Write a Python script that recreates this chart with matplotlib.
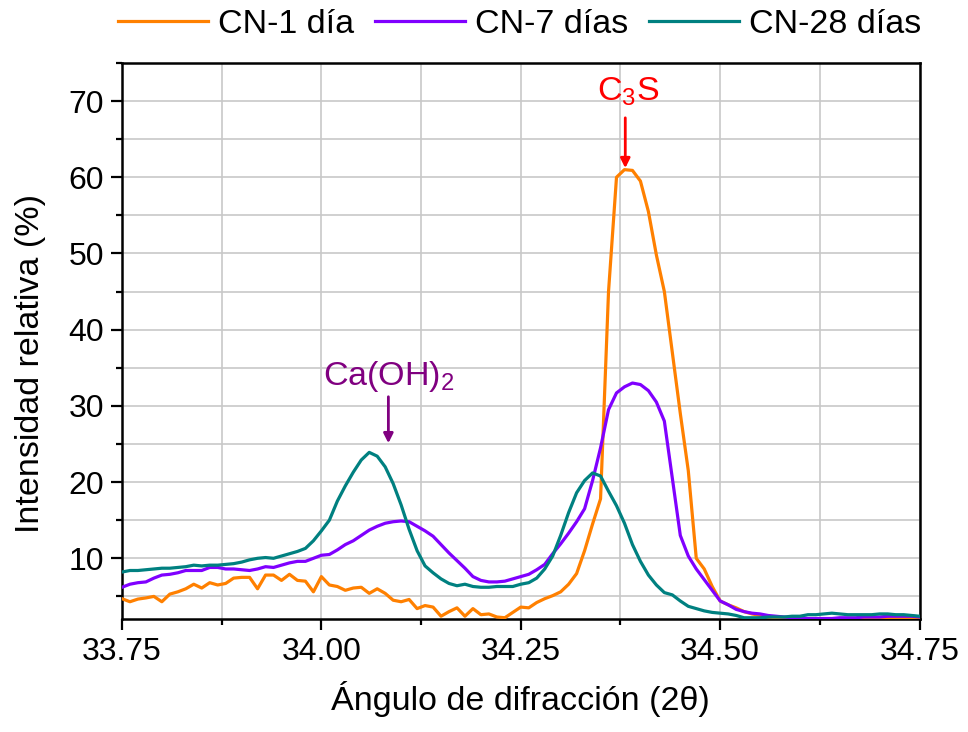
import numpy as np
import matplotlib

matplotlib.use("Agg")
import matplotlib.pyplot as plt
from matplotlib.ticker import MultipleLocator

plt.rcParams["font.family"] = ["Liberation Sans", "DejaVu Sans"]
plt.rcParams["mathtext.fontset"] = "custom"
plt.rcParams["mathtext.rm"] = "Liberation Sans"
plt.rcParams["mathtext.it"] = "Liberation Sans"

# 2theta grid, step 0.01
angle = np.round(np.arange(101) * 0.01 + 33.75, 2)

cn1 = [
    4.7, 4.3, 4.65, 4.8, 5.0, 4.3, 5.3, 5.6, 6.0, 6.6,
    6.1, 6.8, 6.5, 6.7, 7.4, 7.5, 7.5, 6.0, 7.8, 7.8,
    7.1, 7.9, 7.1, 7.0, 5.6, 7.6, 6.5, 6.3, 5.8, 6.1,
    6.2, 5.4, 6.0, 5.4, 4.5, 4.3, 4.6, 3.4, 3.8, 3.6,
    2.4, 3.0, 3.5, 2.4, 3.4, 2.6, 2.7, 2.3, 2.2, 2.9,
    3.6, 3.5, 4.2, 4.7, 5.1, 5.6, 6.6, 8.0, 11.0, 14.5,
    17.8, 45.0, 60.0, 61.0, 60.9, 59.5, 55.5, 49.8, 45.0, 37.0,
    29.0, 21.5, 10.0, 8.6, 6.3, 4.4, 3.9, 3.5, 3.0, 2.7,
    2.5, 2.3, 2.2, 2.2, 2.1, 2.1, 2.0, 2.1, 2.0, 2.0,
    2.1, 2.1, 2.1, 2.2, 2.1, 2.2, 2.2, 2.1, 2.2, 2.1,
    2.2,
]

cn7 = [
    6.2, 6.6, 6.8, 6.9, 7.4, 7.8, 7.9, 8.1, 8.4, 8.4,
    8.4, 8.8, 8.8, 8.6, 8.6, 8.5, 8.4, 8.6, 8.9, 8.8,
    9.1, 9.4, 9.6, 9.6, 10.0, 10.4, 10.5, 11.1, 11.8, 12.3,
    13.0, 13.7, 14.2, 14.6, 14.8, 14.9, 14.8, 14.2, 13.6, 12.9,
    11.8, 10.7, 9.7, 8.7, 7.6, 7.1, 6.9, 6.9, 7.0, 7.3,
    7.6, 7.9, 8.5, 9.2, 10.6, 11.9, 13.3, 14.8, 16.5, 20.2,
    24.5, 29.5, 31.7, 32.5, 33.0, 32.8, 32.0, 30.5, 28.0, 20.5,
    13.0, 10.3, 8.6, 7.2, 5.8, 4.4, 3.9, 3.3, 3.0, 2.8,
    2.7, 2.5, 2.4, 2.3, 2.2, 2.2, 2.1, 2.1, 2.1, 2.1,
    2.2, 2.2, 2.2, 2.3, 2.3, 2.3, 2.4, 2.4, 2.4, 2.4,
    2.3,
]

cn28 = [
    8.2, 8.4, 8.4, 8.5, 8.6, 8.7, 8.7, 8.8, 8.9, 9.1,
    9.0, 9.1, 9.1, 9.2, 9.3, 9.5, 9.8, 10.0, 10.1, 10.0,
    10.3, 10.6, 10.9, 11.3, 12.3, 13.6, 15.0, 17.5, 19.5, 21.3,
    22.9, 23.9, 23.4, 22.0, 19.8, 17.0, 13.8, 11.0, 9.0, 8.1,
    7.3, 6.7, 6.4, 6.6, 6.3, 6.2, 6.2, 6.3, 6.3, 6.3,
    6.6, 6.8, 7.4, 8.6, 10.3, 13.0, 16.0, 18.6, 20.2, 21.2,
    20.8, 18.8, 16.9, 14.6, 11.8, 9.6, 7.8, 6.5, 5.5, 5.2,
    4.4, 3.7, 3.4, 3.1, 2.9, 2.8, 2.7, 2.5, 2.2, 2.2,
    2.2, 2.3, 2.3, 2.3, 2.4, 2.4, 2.6, 2.6, 2.7, 2.8,
    2.7, 2.6, 2.6, 2.6, 2.6, 2.7, 2.7, 2.6, 2.6, 2.5,
    2.4,
]

series = [
    ("CN-1 día", cn1, "#ff8000"),
    ("CN-7 días", cn7, "#8000ff"),
    ("CN-28 días", cn28, "#008080"),
]

fig = plt.figure(figsize=(9.68, 7.32), dpi=100)
ax = fig.add_axes([0.126, 0.154, 0.824, 0.760])

for label, vals, col in series:
    ax.plot(angle, vals, color=col, lw=2.3, label=label, zorder=3)

ax.set_xlim(33.75, 34.75)
ax.set_ylim(2, 75)
ax.xaxis.set_minor_locator(MultipleLocator(0.125))
ax.yaxis.set_minor_locator(MultipleLocator(5))
ax.set_xticks([33.75, 34.00, 34.25, 34.50, 34.75])
ax.set_xticklabels(["33.75", "34.00", "34.25", "34.50", "34.75"])
ax.set_yticks([10, 20, 30, 40, 50, 60, 70])

ax.grid(True, which="both", color="#c8c8c8", lw=1.2, zorder=0)
ax.set_axisbelow(True)
for s in ax.spines.values():
    s.set_linewidth(1.8)
    s.set_color("black")
ax.tick_params(which="major", direction="out", length=8, width=1.6, labelsize=23, pad=5)
ax.tick_params(which="minor", direction="out", length=4, width=1.6)

ax.set_xlabel("Ángulo de difracción (2θ)", fontsize=24.5, labelpad=10)
ax.set_ylabel("Intensidad relativa (%)", fontsize=24.5)
ax.yaxis.set_label_coords(-0.095, 0.46)

# peak labels
ax.text(34.384, 70.1, r"C$_{3}$S", color="red", fontsize=24.5, ha="center", va="baseline")
ax.annotate("", xy=(34.381, 61.2), xytext=(34.381, 67.8),
            arrowprops=dict(arrowstyle="-|>", color="red", lw=2, mutation_scale=14,
                            shrinkA=0, shrinkB=0))
ax.text(34.085, 32.7, r"Ca(OH)$_{2}$", color="#800080", fontsize=24.5, ha="center", va="baseline")
ax.annotate("", xy=(34.084, 25.1), xytext=(34.084, 31.2),
            arrowprops=dict(arrowstyle="-|>", color="#800080", lw=2, mutation_scale=14,
                            shrinkA=0, shrinkB=0))

fig.legend(loc="center", bbox_to_anchor=(0.537, 0.966), ncol=3, frameon=False,
           fontsize=24.5, handlelength=2.65, handletextpad=0.3, columnspacing=0.6,
           borderaxespad=0)

fig.savefig("out.png", dpi=100)
